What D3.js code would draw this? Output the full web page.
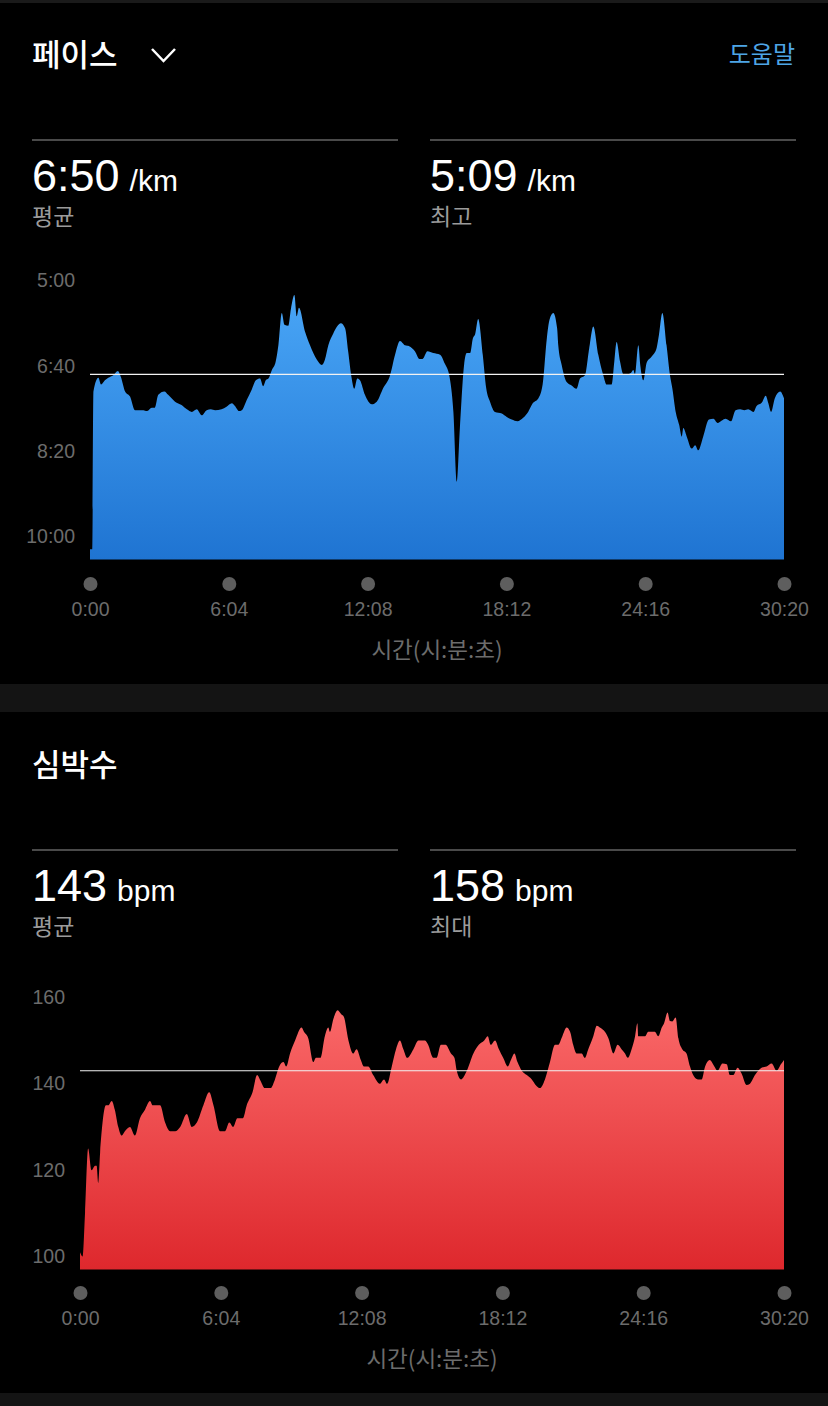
<!DOCTYPE html>
<html>
<head>
<meta charset="utf-8">
<script src="https://cdn.jsdelivr.net/npm/d3@7"></script>
<style>
  body { margin: 0; background: #000; }
  text { font-family: "Liberation Sans", "Noto Sans CJK KR", sans-serif; }
  .kr { font-family: "Noto Sans CJK KR", sans-serif; }
  .axis text { fill: #6c6c6c; font-size: 19.5px; }
</style>
</head>
<body>
<div id="chart"></div>
<script>
// ---- DATA ----
// pace (seconds per km) over elapsed time (seconds)
const paceTimes = [0, 6, 9, 22, 29, 39, 48, 61, 73, 81, 92, 105, 118, 140, 149, 162, 170, 179, 195, 205,
  223, 240, 254, 267, 280, 293, 306, 317, 328, 345, 358, 372, 380, 391, 398, 411, 424, 435, 446, 454,
  461, 468, 477, 487, 494, 503, 510, 520, 527, 536, 542, 548, 564, 577, 595, 608, 616, 625, 638, 658,
  669, 677, 686, 693, 701, 708, 721, 739, 752, 769, 787, 800, 813, 826, 837, 852, 864, 872, 885, 900,
  918, 931, 942, 953, 962, 970, 981, 988, 997, 1004, 1010, 1018, 1030, 1039, 1049, 1062, 1080, 1093, 1106, 1121,
  1136, 1149, 1161, 1176, 1187, 1198, 1205, 1215, 1225, 1228, 1237, 1250, 1263, 1276, 1285, 1298, 1309, 1320, 1333, 1346,
  1355, 1368, 1375, 1381, 1390, 1399, 1407, 1419, 1425, 1429, 1438, 1443, 1451, 1460, 1473, 1486, 1492, 1501, 1512, 1521,
  1527, 1536, 1545, 1552, 1556, 1565, 1578, 1587, 1595, 1608, 1623, 1635, 1646, 1657, 1667, 1681, 1693, 1705, 1716, 1726,
  1740, 1748, 1762, 1772, 1779, 1786, 1796, 1810, 1820];
const paceValues = [615, 615, 430, 414, 422, 417, 414, 411, 406, 413, 430, 436, 452, 452, 453, 449, 449, 434, 430, 434,
  442, 446, 451, 454, 451, 458, 452, 451, 452, 451, 448, 444, 447, 453, 452, 440, 428, 417, 415, 424,
  417, 415, 405, 395, 376, 338, 352, 353, 333, 317, 342, 332, 360, 376, 393, 399, 393, 376, 362, 350,
  356, 383, 414, 427, 415, 417, 434, 445, 442, 426, 411, 387, 371, 376, 377, 383, 392, 392, 383, 385,
  387, 398, 411, 454, 536, 473, 399, 385, 385, 368, 363, 345, 387, 426, 442, 454, 456, 460, 463, 465,
  461, 454, 444, 438, 422, 368, 346, 338, 356, 376, 399, 419, 423, 427, 415, 411, 380, 354, 387, 411,
  422, 422, 395, 372, 395, 410, 410, 408, 405, 410, 376, 399, 417, 396, 389, 379, 364, 338, 376, 411,
  426, 454, 469, 483, 473, 483, 497, 493, 499, 483, 463, 462, 467, 464, 462, 465, 452, 451, 452, 451,
  454, 447, 443, 435, 444, 454, 438, 430, 438];

// heart rate (bpm) over elapsed time (seconds)
const hrTimes = [0, 7, 13, 21, 30, 39, 43, 47, 52, 67, 73, 82, 90, 99, 108, 116, 129, 142, 155, 168,
  181, 188, 198, 207, 220, 233, 246, 259, 276, 289, 302, 319, 334, 345, 362, 375, 386, 396, 407, 421,
  431, 446, 458, 465, 478, 493, 504, 515, 526, 533, 543, 556, 573, 579, 590, 603, 610, 622, 633, 642,
  646, 655, 666, 676, 682, 694, 706, 715, 726, 734, 745, 758, 775, 786, 794, 806, 817, 827, 836, 846,
  862, 875, 892, 900, 913, 922, 933, 945, 959, 968, 974, 985, 1000, 1017, 1031, 1045, 1054, 1062, 1073, 1083,
  1094, 1106, 1114, 1123, 1131, 1142, 1155, 1168, 1179, 1189, 1202, 1215, 1228, 1236, 1247, 1258, 1267, 1275, 1284, 1297,
  1305, 1314, 1327, 1336, 1344, 1357, 1366, 1379, 1390, 1400, 1409, 1416, 1426, 1435, 1441, 1443, 1461, 1469, 1486, 1495,
  1504, 1510, 1519, 1525, 1531, 1540, 1547, 1557, 1568, 1577, 1588, 1598, 1607, 1616, 1628, 1640, 1648, 1661, 1672, 1680,
  1689, 1700, 1710, 1723, 1732, 1745, 1762, 1775, 1788, 1801, 1812, 1820];
const hrValues = [101, 100, 110, 125, 120, 121, 121, 117, 124, 135, 135, 136, 134, 130, 128, 129, 130, 128, 132, 134,
  136, 135, 135, 135, 131, 129, 129, 130, 133, 130, 131, 135, 138, 135, 129, 129, 131, 130, 132, 132,
  135, 138, 142, 141, 139, 139, 141, 144, 145, 144, 147, 150, 153, 152, 150.5, 145, 146, 146, 151, 153,
  152, 155, 157, 156, 155.5, 150, 147, 148, 145.5, 144, 144, 142, 140, 141, 140, 144, 148, 150, 148, 146,
  148, 150, 150, 149, 146, 146, 149, 149, 147, 146, 143, 141, 143, 147, 149, 150, 151, 149, 150, 148,
  146, 144, 145.5, 147, 145, 143, 142, 141, 139.6, 139, 141, 145, 149, 149, 151, 153, 152, 149, 147, 147,
  146, 148, 151, 153.4, 153, 152, 150.5, 147, 149, 148, 147, 146, 148, 151, 154, 151, 151, 152, 152, 151,
  153, 154, 156.5, 154.5, 154.4, 155.3, 150.5, 148, 147, 144, 141.6, 141, 141, 144, 145.5, 144, 143, 144.7, 144.5, 142,
  142, 143.7, 142.4, 139.7, 140, 142, 143.7, 144, 144.7, 143, 144.5, 145.5];

const timeTicks = [0, 364, 728, 1092, 1456, 1820];
const paceTicks = [300, 400, 500, 600];
const hrTicks = [100, 120, 140, 160];

const paceAvg = 410, paceBest = 309;
const hrAvg = 143, hrMax = 158;

const paceData = paceTimes.map((t, i) => ({t: t, v: paceValues[i]}));
const hrData = hrTimes.map((t, i) => ({t: t, v: hrValues[i]}));

const mmss = s => Math.floor(s / 60) + ":" + String(Math.round(s % 60)).padStart(2, "0");

// ---- PAGE ----
const W = 828, H = 1406;
const svg = d3.select("#chart").append("svg")
  .attr("width", W).attr("height", H)
  .style("display", "block");

svg.append("rect").attr("width", W).attr("height", H).attr("fill", "#000");
svg.append("rect").attr("x", 0).attr("y", 0).attr("width", W).attr("height", 3).attr("fill", "#1a1a1a");
svg.append("rect").attr("x", 0).attr("y", 684).attr("width", W).attr("height", 28).attr("fill", "#141414");
svg.append("rect").attr("x", 0).attr("y", 1393).attr("width", W).attr("height", 13).attr("fill", "#141414");

const defs = svg.append("defs");

function gradient(id, yTop, yBottom, c1, c2) {
  const g = defs.append("linearGradient").attr("id", id)
    .attr("gradientUnits", "userSpaceOnUse")
    .attr("x1", 0).attr("x2", 0).attr("y1", yTop).attr("y2", yBottom);
  g.append("stop").attr("offset", "0%").attr("stop-color", c1);
  g.append("stop").attr("offset", "100%").attr("stop-color", c2);
}

function header(g, title, chevron, help) {
  g.append("text").attr("class", "kr")
    .attr("x", 32).attr("y", 66)
    .attr("fill", "#fff").attr("font-size", 31).attr("font-weight", 500)
    .text(title);
  if (chevron) {
    g.append("path").attr("d", "M152,49 L163.5,61 L175,49")
      .attr("fill", "none").attr("stroke", "#fff").attr("stroke-width", 2.5);
  }
  if (help) {
    g.append("text").attr("class", "kr")
      .attr("x", 795).attr("y", 63).attr("text-anchor", "end")
      .attr("fill", "#4ea5e6").attr("font-size", 24)
      .text(help);
  }
}

function stat(g, x, value, unit, label) {
  g.append("line").attr("x1", x).attr("x2", x + 366).attr("y1", 140).attr("y2", 140)
    .attr("stroke", "#4a4a4a").attr("stroke-width", 2);
  const t = g.append("text").attr("x", x).attr("y", 191).attr("fill", "#fff");
  t.append("tspan").attr("font-size", 45).text(value);
  t.append("tspan").attr("font-size", 30).attr("dx", 10).text(unit);
  g.append("text").attr("class", "kr")
    .attr("x", x).attr("y", 225).attr("fill", "#9b9b9b").attr("font-size", 23)
    .text(label);
}

function areaChart(g, cfg) {
  const x = d3.scaleLinear().domain([0, 1820]).range([cfg.left, 784]);
  const y = d3.scaleLinear().domain(cfg.yDomain).range(cfg.yRange);

  gradient(cfg.gid, d3.min(cfg.yRange), d3.max(cfg.yRange), cfg.c1, cfg.c2);

  const area = d3.area()
    .x(d => x(d.t))
    .y0(y(cfg.base))
    .y1(d => y(d.v))
    .curve(d3.curveMonotoneX);

  g.append("path").datum(cfg.data)
    .attr("d", area)
    .attr("fill", "url(#" + cfg.gid + ")");

  // average line
  g.append("line")
    .attr("x1", x(0)).attr("x2", x(1820))
    .attr("y1", y(cfg.avg)).attr("y2", y(cfg.avg))
    .attr("stroke", "#f2f2f2").attr("stroke-width", 1.2);

  // y axis
  const yAxis = d3.axisLeft(y).tickValues(cfg.yTicks).tickFormat(cfg.yFormat)
    .tickSize(0).tickPadding(15);
  const yg = g.append("g").attr("class", "axis")
    .attr("transform", "translate(" + cfg.left + ",0)")
    .call(yAxis);
  yg.select(".domain").remove();

  // x axis with dots
  const xAxis = d3.axisBottom(x).tickValues(timeTicks).tickFormat(mmss)
    .tickSize(0).tickPadding(18);
  const xg = g.append("g").attr("class", "axis")
    .attr("transform", "translate(0," + cfg.dotY + ")")
    .call(xAxis);
  xg.select(".domain").remove();
  xg.selectAll(".tick").append("circle").attr("r", 7).attr("fill", "#5e5e5e");

  g.append("text").attr("class", "kr")
    .attr("x", (cfg.left + 784) / 2).attr("y", cfg.dotY + 74)
    .attr("text-anchor", "middle").attr("fill", "#6c6c6c").attr("font-size", 22.5)
    .text("시간(시:분:초)");
}

// ---- PACE PANEL ----
const p1 = svg.append("g");
header(p1, "페이스", true, "도움말");
stat(p1, 32, mmss(paceAvg), "/km", "평균");
stat(p1, 430, mmss(paceBest), "/km", "최고");
areaChart(p1, {
  data: paceData, left: 90,
  yDomain: [300, 627], yRange: [280.5, 559.5], base: 627,
  yTicks: paceTicks, yFormat: mmss, avg: paceAvg,
  gid: "blueGrad", c1: "#4ba8f8", c2: "#1f74d2",
  dotY: 584
});

// ---- HEART RATE PANEL ----
const p2 = svg.append("g").attr("transform", "translate(0,710)");
header(p2, "심박수", false, null);
stat(p2, 32, String(hrAvg), "bpm", "평균");
stat(p2, 430, String(hrMax), "bpm", "최대");
areaChart(p2, {
  data: hrData, left: 80,
  yDomain: [97, 160], yRange: [559.5, 287.3], base: 97,
  yTicks: hrTicks, yFormat: d => d, avg: hrAvg,
  gid: "redGrad", c1: "#fb6b6b", c2: "#de282d",
  dotY: 583
});
</script>
</body>
</html>
